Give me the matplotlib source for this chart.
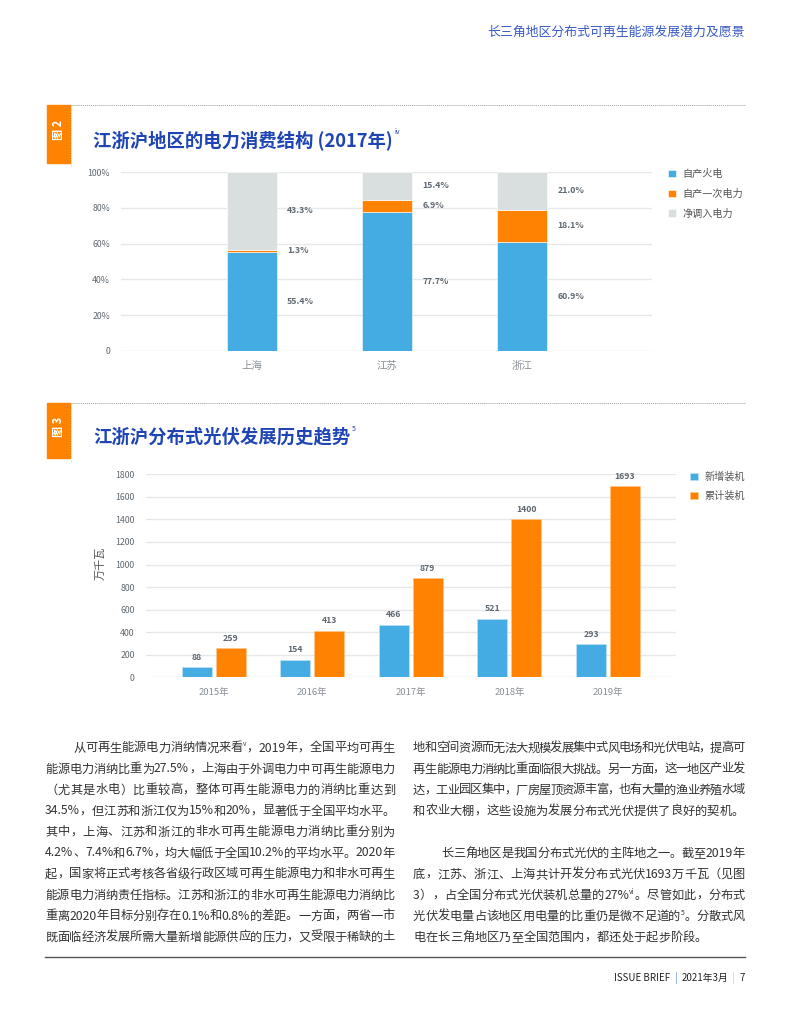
import re
import matplotlib
matplotlib.use("Agg")
import matplotlib.pyplot as plt
from matplotlib.patches import Rectangle, Patch
from matplotlib.lines import Line2D
from matplotlib.font_manager import FontProperties
import numpy as np

plt.rcParams["font.family"] = ["Noto Sans CJK SC", "DejaVu Sans"]

W, H = 791, 1024

# 图2 数据
regions = ["上海", "江苏", "浙江"]
thermal = [55.4, 77.7, 60.9]
primary = [1.3, 6.9, 18.1]
imported = [43.3, 15.4, 21.0]
series1_names = ["自产火电", "自产一次电力", "净调入电力"]

# 图3 数据
years = ["2015年", "2016年", "2017年", "2018年", "2019年"]
new_cap = [88, 154, 466, 521, 293]
cum_cap = [259, 413, 879, 1400, 1693]
series2_names = ["新增装机", "累计装机"]

left_lines = [
    ("从可再生能源电力消纳情况来看{v}，2019年，全国平均可再生", True, 28),
    ("能源电力消纳比重为27.5%，上海由于外调电力中可再生能源电力", True, 0),
    ("（尤其是水电）比重较高，整体可再生能源电力的消纳比重达到", True, 0),
    ("34.5%，但江苏和浙江仅为15%和20%，显著低于全国平均水平。", True, 0),
    ("其中，上海、江苏和浙江的非水可再生能源电力消纳比重分别为", True, 0),
    ("4.2%、7.4%和6.7%，均大幅低于全国10.2%的平均水平。2020年", True, 0),
    ("起，国家将正式考核各省级行政区域可再生能源电力和非水可再生", True, 0),
    ("能源电力消纳责任指标。江苏和浙江的非水可再生能源电力消纳比", True, 0),
    ("重离2020年目标分别存在0.1%和0.8%的差距。一方面，两省一市", True, 0),
    ("既面临经济发展所需大量新增能源供应的压力，又受限于稀缺的土", True, 0),
]
right_lines = [
    ("地和空间资源而无法大规模发展集中式风电场和光伏电站，提高可", True, 0),
    ("再生能源电力消纳比重面临很大挑战。另一方面，这一地区产业发", True, 0),
    ("达，工业园区集中，厂房屋顶资源丰富，也有大量的渔业养殖水域", True, 0),
    ("和农业大棚，这些设施为发展分布式光伏提供了良好的契机。", False, 0),
    (None, False, 0),
    ("长三角地区是我国分布式光伏的主阵地之一。截至2019年", True, 28),
    ("底，江苏、浙江、上海共计开发分布式光伏1693万千瓦（见图", True, 0),
    ("3），占全国分布式光伏装机总量的27%{vi}。尽管如此，分布式", True, 0),
    ("光伏发电量占该地区用电量的比重仍是微不足道的{5}。分散式风", True, 0),
    ("电在长三角地区乃至全国范围内，都还处于起步阶段。", False, 0),
]

BLUE = "#45ABE3"
ORANGE = "#FF8300"
GREY = "#D9DFDF"
GRID = "#E6E9EB"
TITLE = "#1F45B5"
TICK = "#5F6870"


def fx(x):
    return x / W


def fy(y):
    return 1 - y / H


fig = plt.figure(figsize=(W / 100, H / 100), dpi=100)
renderer = fig.canvas.get_renderer()


def text_w(s, size, weight="normal"):
    prop = FontProperties(family=["Noto Sans CJK SC", "DejaVu Sans"], size=size, weight=weight)
    w, h, d = renderer.get_text_width_height_descent(s, prop, ismath=False)
    return w


def para_line(x0, x1, y, s, justify, indent, size=8.8, color="#333333"):
    toks = re.findall(r"\{[^}]*\}|[A-Za-z0-9.%]+|.", s)
    widths = []
    for t in toks:
        if t.startswith("{"):
            widths.append(text_w(t[1:-1], size * 0.55))
        else:
            widths.append(text_w(t, size))
    x = x0 + indent
    gap = 0
    if justify and len(toks) > 1:
        gap = (x1 - x - sum(widths)) / (len(toks) - 1)
    for t, w in zip(toks, widths):
        if t.startswith("{"):
            fig.text(fx(x), fy(y - 5), t[1:-1], fontsize=size * 0.55, color=color,
                     ha="left", va="baseline")
        else:
            fig.text(fx(x), fy(y), t, fontsize=size, color=color, ha="left", va="baseline")
        x += w + gap


# 页眉
fig.text(fx(745), fy(32), "长三角地区分布式可再生能源发展潜力及愿景", fontsize=9.3,
         color="#3A5BC7", ha="right", va="center")


def header_block(y_top, y_bot, num, title, sup, y_title):
    fig.patches.append(Rectangle((fx(47), fy(y_bot)), fx(23), (y_bot - y_top) / H,
                                 transform=fig.transFigure, color="#FF8300", zorder=1))
    fig.lines.append(Line2D([fx(71), fx(745)], [fy(y_top), fy(y_top)], transform=fig.transFigure,
                            color="#A0A0A0", lw=0.7, linestyle=(0, (1, 1))))
    fig.lines.append(Line2D([fx(70.5), fx(70.5)], [fy(y_top), fy(y_bot + 4)], transform=fig.transFigure,
                            color="#BBBBBB", lw=0.6, linestyle=(0, (1, 2))))
    fig.text(fx(58.5), fy((y_top + y_bot) / 2 - 4), "图 " + num, rotation=90, color="white",
             fontsize=8, ha="center", va="center", fontweight="bold")
    fig.text(fx(93), fy(y_title), title, fontsize=13.2, fontweight="bold", color=TITLE,
             ha="left", va="center")
    w = text_w(title, 13.2, "bold")
    fig.text(fx(93 + w + 2), fy(y_title - 8), sup, fontsize=5, color=TITLE, ha="left", va="center")


header_block(105, 163, "2", "江浙沪地区的电力消费结构 (2017年)", "iv", 140)
header_block(403, 458, "3", "江浙沪分布式光伏发展历史趋势", "5", 437)


def style_axes(ax):
    for sp in ax.spines.values():
        sp.set_visible(False)
    ax.tick_params(length=0)
    ax.yaxis.grid(True, color=GRID, lw=1)
    ax.set_axisbelow(True)


# ---- 图2 堆叠柱状图
ax1 = fig.add_axes([fx(121), fy(351), (652 - 121) / W, (351 - 172) / H])
style_axes(ax1)
x1 = np.arange(len(regions))
bw = 0.37
b_thermal = np.array(thermal)
b_primary = np.array(primary)
ax1.bar(x1, thermal, bw, color=BLUE, edgecolor="white", lw=0.4, label=series1_names[0])
ax1.bar(x1, primary, bw, bottom=b_thermal, color=ORANGE, edgecolor="white", lw=0.4,
        label=series1_names[1])
ax1.bar(x1, imported, bw, bottom=b_thermal + b_primary, color=GREY, edgecolor="white", lw=0.4,
        label=series1_names[2])
for i in range(len(regions)):
    segs = [(0, thermal[i]), (thermal[i], primary[i]), (thermal[i] + primary[i], imported[i])]
    for bottom, h in segs:
        ax1.text(i + bw / 2 + 0.075, bottom + h / 2, f"{h:.1f}%", fontsize=6.3, color=TICK,
                 ha="left", va="center", fontweight="bold")
ax1.set_xlim(-0.97, 2.96)
ax1.set_ylim(0, 100)
ax1.set_yticks([0, 20, 40, 60, 80, 100])
ax1.set_yticklabels(["0", "20%", "40%", "60%", "80%", "100%"])
ax1.set_xticks(x1)
ax1.set_xticklabels(regions)
ax1.tick_params(axis="y", labelsize=6.3, labelcolor=TICK, pad=8)
ax1.tick_params(axis="x", labelsize=7.5, labelcolor="#8A9096", pad=7)
leg1 = ax1.legend(loc="upper left", bbox_to_anchor=(fx(668), fy(169)), bbox_transform=fig.transFigure,
                  frameon=False, fontsize=7.3, handlelength=0.75, handleheight=0.75,
                  handletextpad=0.7, labelspacing=0.95, borderpad=0, borderaxespad=0)
for t in leg1.get_texts():
    t.set_color("#555555")

# ---- 图3 分组柱状图
ax2 = fig.add_axes([fx(145.7), fy(677.3), (676 - 145.7) / W, (677.3 - 474.3) / H])
style_axes(ax2)
x2 = np.arange(len(years))
w2 = 0.305
off = 0.172
r_new = ax2.bar(x2 - off, new_cap, w2, color=BLUE, edgecolor="#BFE2F5", lw=0.5, label=series2_names[0])
r_cum = ax2.bar(x2 + off, cum_cap, w2, color=ORANGE, edgecolor="#FFC58A", lw=0.5, label=series2_names[1])
for rects, vals in ((r_new, new_cap), (r_cum, cum_cap)):
    for r, v in zip(rects, vals):
        ax2.annotate(f"{v}", (r.get_x() + r.get_width() / 2, v), xytext=(0, 4),
                     textcoords="offset points", ha="center", va="bottom", fontsize=6.3,
                     color=TICK, fontweight="bold")
ax2.set_xlim(-0.69, 4.69)
ax2.set_ylim(0, 1800)
ax2.set_yticks(np.arange(0, 1801, 200))
ax2.set_xticks(x2)
ax2.set_xticklabels(years)
ax2.tick_params(axis="y", labelsize=6.3, labelcolor=TICK, pad=8)
ax2.tick_params(axis="x", labelsize=6.8, labelcolor="#8A9096", pad=8)
fig.text(fx(100), fy(563), "万千瓦", rotation=90, fontsize=8, color="#555555", ha="center", va="center")
leg2 = ax2.legend(loc="upper left", bbox_to_anchor=(fx(690), fy(472)), bbox_transform=fig.transFigure,
                  frameon=False, fontsize=7.3, handlelength=0.75, handleheight=0.75,
                  handletextpad=0.7, labelspacing=0.85, borderpad=0, borderaxespad=0)
for t in leg2.get_texts():
    t.set_color("#555555")

# ---- 正文
y0 = 751.5
for k, (s, just, ind) in enumerate(left_lines):
    para_line(45, 395, y0 + 21 * k, s, just, ind)
for k, (s, just, ind) in enumerate(right_lines):
    if s is None:
        continue
    para_line(413, 745, y0 + 21 * k - (0 if k < 4 else -0.5), s, just, ind)

# ---- 页脚
fig.lines.append(Line2D([fx(45), fx(745)], [fy(957), fy(957)], transform=fig.transFigure,
                        color="#555555", lw=1.0))
pieces = [("ISSUE BRIEF", "#222222"), ("  |  ", "#6E8FD8"), ("2021年3月", "#222222"),
          ("  |  ", "#B9C8EA"), ("7", "#222222")]
xr = 745
for s, c in reversed(pieces):
    fig.text(fx(xr), fy(978), s, fontsize=7, color=c, ha="right", va="center")
    xr -= text_w(s, 7)

fig.savefig("out.png", dpi=100)
